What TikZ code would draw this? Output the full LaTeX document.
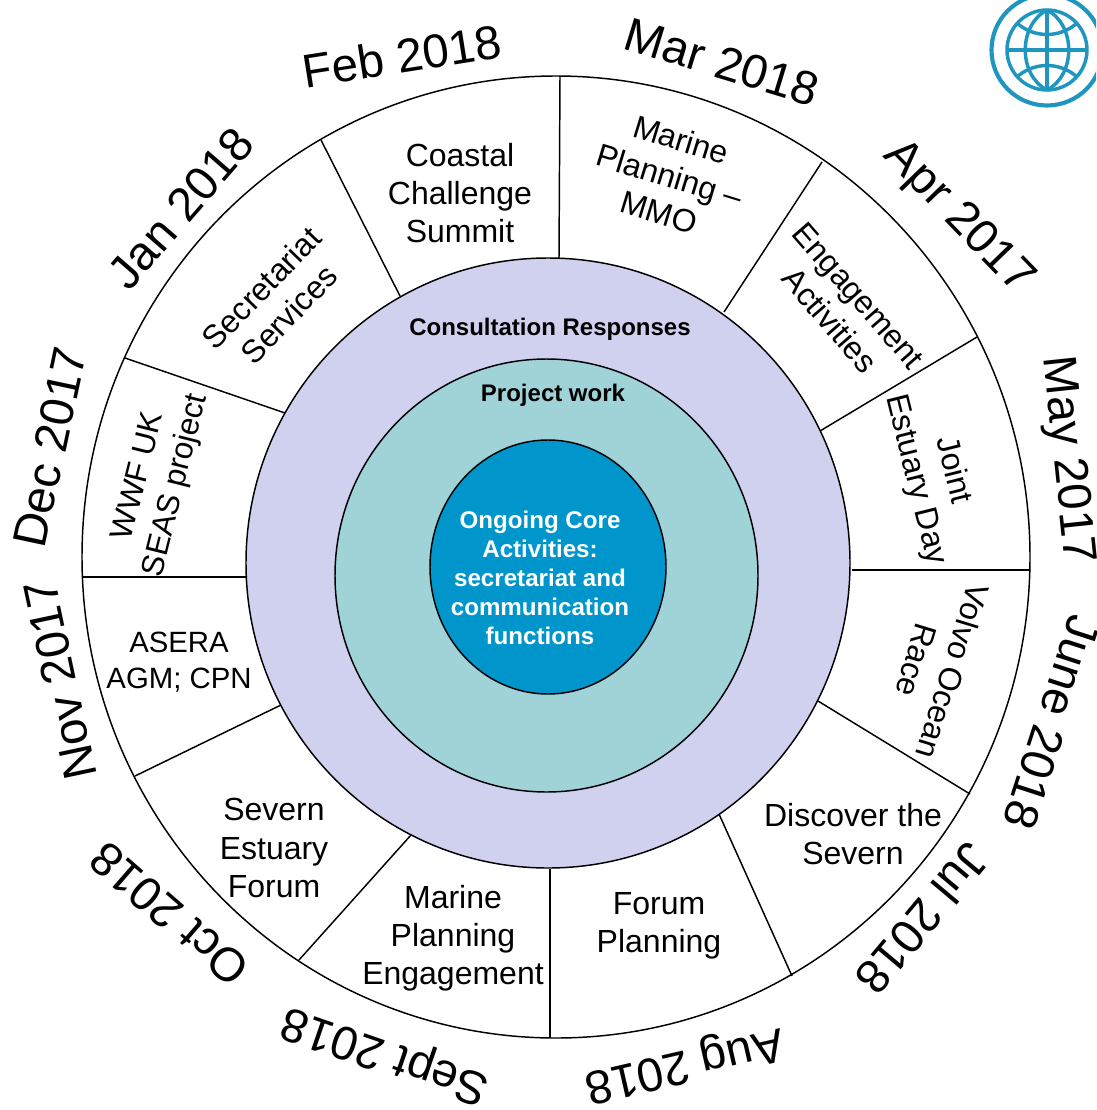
\documentclass[tikz,border=0pt]{standalone}
\usepackage{fontspec}
\setmainfont{Liberation Sans}
\definecolor{lilac}{HTML}{CFD1EF}
\definecolor{teal1}{HTML}{9FD3D8}
\definecolor{core}{HTML}{0096CC}
\definecolor{globe}{HTML}{1E96C0}
\newcommand{\fs}[2]{\fontsize{#1}{#2}\selectfont}
\tikzset{
  x=0.75pt,y=-0.75pt,
  ring/.style={draw=black,line width=1.1pt},
  spoke/.style={draw=black,line width=1.1pt},
  month/.style={align=center,inner sep=0,font=\fs{35.5}{40}},
  label/.style={align=center,inner sep=0,font=\fs{24}{28.6}},
  small/.style={align=center,inner sep=0,font=\fs{23.6}{28.6}},
  heading/.style={align=center,inner sep=0,font=\bfseries\fs{18}{22}},
  corelabel/.style={align=center,inner sep=0,text=white,font=\bfseries\fs{18.1}{21.8}},
  globeline/.style={draw=globe,line width=2.6pt}
}
\begin{document}
\begin{tikzpicture}
\useasboundingbox (0,0) rectangle (1096,1110);
\fill[white] (0,0) rectangle (1096,1110);
\draw[ring] (556,557) ellipse [x radius=474,y radius=481];
\foreach \a/\b/\c/\d in {560/76/559/258,822/162/724/312,977/337/820/431,1030/570/852/570,970/794/818/701,792/976/719/814,550/1038/550/869,299/960/411/835,135/776/281/705,82/577/246/577,125/358/285/413,321/140/400/296}
  \draw[spoke] (\a,\b) -- (\c,\d);
\draw[ring,fill=lilac] (548,563) ellipse [x radius=302,y radius=305];
\draw[ring,fill=teal1] (546.5,575.5) ellipse [x radius=211.5,y radius=216.5];
\draw[ring,fill=core] (548,567) ellipse [x radius=118,y radius=127];
% months
\node[month,rotate=9] (feb) at (402,56) {Feb 2018};
\node[month,rotate=-17] (mar) at (722,62) {Mar 2018};
\node[month,rotate=-46] (apr) at (958,218) {Apr 2017};
\node[month,rotate=-84] (may) at (1066,460) {May 2017};
\node[month,rotate=-108] (jun) at (1052,723) {June 2018};
\node[month,rotate=-130] (jul) at (923,919) {Jul 2018};
\node[month,rotate=193] (aug) at (684,1063) {Aug 2018};
\node[month,rotate=161] (sep) at (386,1053) {Sept 2018};
\node[month,rotate=139] (oct) at (169,914) {Oct 2018};
\node[month,rotate=102] (nov) at (60,680) {Nov 2017};
\node[month,rotate=78] (dec) at (50,447) {Dec 2017};
\node[month,rotate=49] (jan) at (181,208) {Jan 2018};
% segments
\node[label] (coastal) at (460,193) {Coastal\\Challenge\\Summit};
\node[label,rotate=-17] (mmo) at (670,176) {Marine\\Planning –\\MMO};
\node[label,rotate=-49] (engage) at (844,308) {Engagement\\Activities};
\node[label,rotate=-76] (joint) at (934,475) {Joint\\Estuary Day};
\node[label,rotate=-107] (volvo) at (935,666) {Volvo Ocean\\Race};
\node[label] (discover) at (853,834) {Discover the\\Severn};
\node[label] (forum) at (659,926) {Forum\\Planning};
\node[label] (mpe) at (453,938) {Marine\\Planning\\Engagement};
\node[label] (sef) at (274,848) {Severn\\Estuary\\Forum};
\node[small,font=\fs{22}{26.5}] (asera) at (179,662) {ASERA\\AGM; CPN};
\node[small,rotate=76] (wwf) at (158,481) {WWF UK\\SEAS project};
\node[label,rotate=46] (sec) at (275,301) {Secretariat\\Services};
% centre
\node[heading] (cons) at (550,329) {Consultation Responses};
\node[heading] (proj) at (553,395) {Project work};
\node[corelabel] (corelab) at (540,578) {Ongoing Core\\Activities:\\secretariat and\\communication\\functions};
% globe icon
\begin{scope}
\clip (0,0) rectangle (1096,1110);
\draw[globeline,line width=3.1pt] (1047,50) circle [radius=55.5];
\draw[globeline] (1047,50) circle [radius=40];
\draw[globeline] (1047,10) -- (1047,90);
\draw[globeline] (1007,50) -- (1087,50);
\draw[globeline] (1047,10) .. controls (1018,25) and (1018,75) .. (1047,90);
\draw[globeline] (1047,10) .. controls (1076,25) and (1076,75) .. (1047,90);
\draw[globeline] (1018,24) .. controls (1035,38) and (1059,38) .. (1076,24);
\draw[globeline] (1018,76) .. controls (1035,62) and (1059,62) .. (1076,76);
\end{scope}
\end{tikzpicture}
\end{document}
